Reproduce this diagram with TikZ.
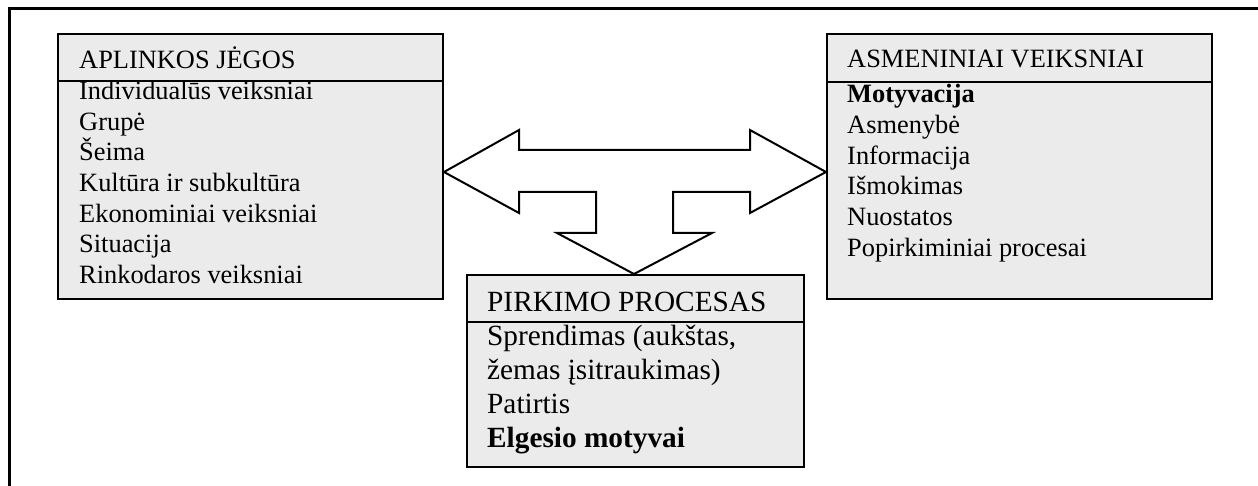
\documentclass[tikz,border=0pt]{standalone}
\usepackage{fontspec}
\setmainfont{Liberation Serif}
\begin{document}
\begin{tikzpicture}[x=1pt,y=-1pt,
  panel/.style={draw=black, line width=2pt, fill=black!8, inner sep=0pt, anchor=north west},
  rule/.style={draw=black, line width=1.6pt},
  frame/.style={line width=3pt},
  item/.style={anchor=base west, inner sep=0pt, font=\fontsize{26.4}{30}\selectfont},
  bitem/.style={anchor=base west, inner sep=0pt, font=\fontsize{29.3}{34}\selectfont},
  flow/.style={draw=black, line width=2pt, fill=white, line join=miter}]
\useasboundingbox (0,0) rectangle (1258,486);

% page frame
\draw[frame] (9,486) -- (9,9) -- (1258,9);

% side panels
\node[panel, minimum width=385pt, minimum height=265pt] (env) at (57,33) {};
\node[panel, minimum width=385pt, minimum height=265pt] (pers) at (826,33) {};
\draw[rule] ([yshift=-48pt]env.north west) -- ([yshift=-48pt]env.north east);
\draw[rule] ([yshift=-49pt]pers.north west) -- ([yshift=-49pt]pers.north east);

% three-way block arrow
\draw[flow] (env.east |- 0,172) -- (519,130) -- (519,150) -- (750,150) -- (750,130)
  -- (pers.west |- 0,172) -- (750,213) -- (750,192) -- (673,192) -- (673,233)
  -- (712,233) -- (634,274) -- (557,233) -- (596,233) -- (596,192)
  -- (519,192) -- (519,213) -- cycle;

% bottom panel
\node[panel, minimum width=337pt, minimum height=192pt] (buy) at (466,274) {};
\draw[rule] ([yshift=-48pt]buy.north west) -- ([yshift=-48pt]buy.north east);

% headings
\node[item] (envh) at (79,69) {APLINKOS JĖGOS};
\node[item] (persh) at (847,68) {ASMENINIAI VEIKSNIAI};
\node[bitem] (buyh) at (487,312) {PIRKIMO PROCESAS};

% lists
\foreach \t [count=\i] in {Individualūs veiksniai, Grupė, Šeima, Kultūra ir subkultūra,
  Ekonominiai veiksniai, Situacija, Rinkodaros veiksniai}
  \node[item] (env\i) at (79,{99.5+30.7*(\i-1)}) {\t};
\foreach \t [count=\i] in {\textbf{Motyvacija}, Asmenybė, Informacija, Išmokimas,
  Nuostatos, Popirkiminiai procesai}
  \node[item] (pers\i) at (847,{102.7+30.7*(\i-1)}) {\t};
\foreach \t [count=\i] in {{Sprendimas (aukštas,}, {žemas įsitraukimas)}, Patirtis,
  \textbf{Elgesio motyvai}}
  \node[bitem] (buy\i) at (487,{345+34*(\i-1)}) {\t};
\end{tikzpicture}
\end{document}
